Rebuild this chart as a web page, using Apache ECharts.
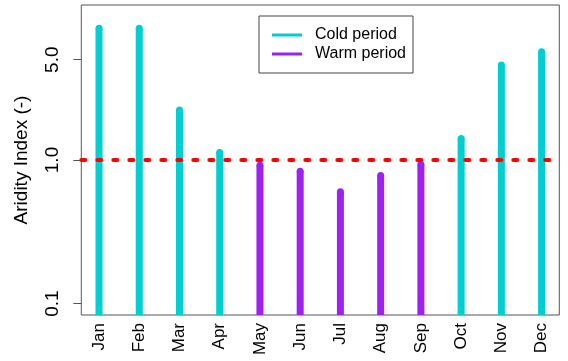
<!DOCTYPE html>
<html>
<head>
<meta charset="utf-8">
<script src="https://cdn.jsdelivr.net/npm/echarts@6/dist/echarts.min.js"></script>
<style>
html,body{margin:0;padding:0;background:#fff;}
#chart{width:568px;height:361px;}
</style>
</head>
<body>
<div id="chart"></div>
<script>
const months = ['Jan','Feb','Mar','Apr','May','Jun','Jul','Aug','Sep','Oct','Nov','Dec'];
const coldValues = [8.27, 8.27, 2.23, 1.13, null, null, null, null, null, 1.41, 4.59, 5.69];
const warmValues = [null, null, null, null, 0.92, 0.835, 0.60, 0.78, 0.93, null, null, null];
const yTickValues = [0.1, 1.0, 5.0];
const thresholdValue = 1.0;
const seriesNames = ['Cold period', 'Warm period'];

const Y_MIN = Math.pow(10, -1.08), Y_MAX = Math.pow(10, 1.08);
const X_MIN = 0.56, X_MAX = 12.44;
const FONT = 'Liberation Sans, Arial, Helvetica, sans-serif';
const COLD = '#00CED1', WARM = '#A020F0';

function toPairs(arr){
  const out = [];
  arr.forEach((v,i)=>{ if (v != null) out.push([i+1, v]); });
  return out;
}
function makeRender(color){
  return function(params, api){
    const x = api.value(0), v = api.value(1);
    const top = api.coord([x, v]);
    const bottom = api.coord([x, Y_MIN]);
    const w = 7;
    return {type:'group', children:[
      {type:'rect', shape:{x: top[0]-w/2, y: top[1], width: w, height: bottom[1]-top[1]}, style:{fill: color}},
      {type:'circle', shape:{cx: top[0], cy: top[1], r: w/2}, style:{fill: color}}
    ]};
  };
}

const chart = echarts.init(document.getElementById('chart'), null, {renderer:'canvas'});
chart.setOption({
  animation: false,
  backgroundColor: '#fff',
  textStyle: {fontFamily: FONT},
  grid: {left: 81.3, right: 8.7, top: 5, bottom: 46, show: true, borderColor: '#555', borderWidth: 1, backgroundColor: 'transparent'},
  legend: {
    data: seriesNames,
    orient: 'vertical',
    left: 259, top: 16,
    icon: 'rect', itemWidth: 30, itemHeight: 3, itemGap: 3,
    padding: [11, 7, 11, 13],
    borderColor: '#444', borderWidth: 1,
    textStyle: {fontSize: 16, color: '#000', fontFamily: FONT, lineHeight: 16, padding: [0,0,0,8]},
    selectedMode: false
  },
  xAxis: {
    type: 'value', min: X_MIN, max: X_MAX,
    splitLine: {show: false},
    axisLine: {show: false},
    axisTick: {show: false},
    axisLabel: {
      customValues: months.map((m,i)=>i+1),
      formatter: v => months[Math.round(v)-1] || '',
      rotate: 90, fontSize: 17, color: '#000', margin: 8, fontFamily: FONT
    }
  },
  yAxis: {
    type: 'log', logBase: 10, min: Y_MIN, max: Y_MAX,
    name: 'Aridity Index (-)', nameLocation: 'middle', nameRotate: 90, nameGap: 50,
    nameTextStyle: {fontSize: 19, color: '#000', fontFamily: FONT},
    splitLine: {show: false},
    axisLine: {show: false},
    axisTick: {show: true, customValues: yTickValues, length: 8, lineStyle: {color: '#555', width: 1}},
    axisLabel: {
      customValues: yTickValues,
      formatter: v => Number(v).toFixed(1),
      rotate: 90, fontSize: 19, color: '#000', margin: 19, fontFamily: FONT
    }
  },
  series: [
    {name: seriesNames[0], type: 'custom', renderItem: makeRender(COLD), itemStyle: {color: COLD}, data: toPairs(coldValues), encode: {x: 0, y: 1}},
    {name: seriesNames[1], type: 'custom', renderItem: makeRender(WARM), itemStyle: {color: WARM}, data: toPairs(warmValues), encode: {x: 0, y: 1}},
    {name: 'threshold', type: 'line', data: [], silent: true,
      markLine: {silent: true, symbol: ['none','none'], label: {show: false},
        lineStyle: {color: '#FF0000', width: 4, type: [4, 12], cap: 'round'},
        emphasis: {disabled: true},
        data: [{yAxis: thresholdValue}]}}
  ]
});
</script>
</body>
</html>
